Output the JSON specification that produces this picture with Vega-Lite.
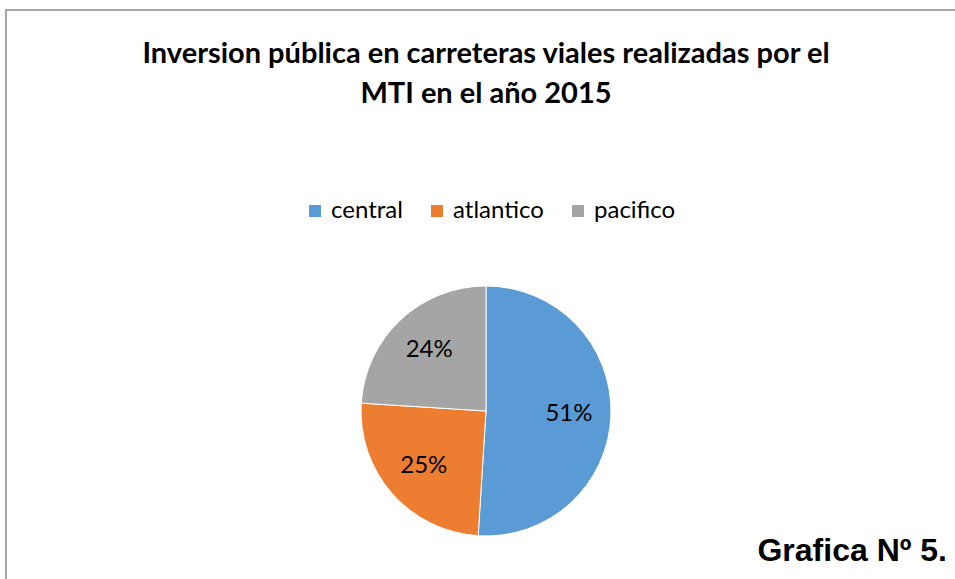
{
  "$schema": "https://vega.github.io/schema/vega-lite/v6.json",
  "width": 960,
  "height": 802,
  "autosize": "none",
  "padding": {"left": 6, "top": 10, "right": 0, "bottom": 0},
  "background": "white",
  "config": {"view": {"stroke": "#A6A6A6", "strokeWidth": 2}},
  "title": {
    "text": ["Inversion pública en carreteras viales realizadas por el", "MTI en el año 2015"],
    "font": "Lato",
    "fontSize": 29,
    "fontWeight": "bold",
    "color": "#000000",
    "anchor": "middle",
    "frame": "group",
    "orient": "top",
    "baseline": "top",
    "offset": 0,
    "dy": 99,
    "lineHeight": 40
  },
  "datasets": {
    "shares": [
      {"region": "central", "value": 51, "label": "51%", "idx": 1},
      {"region": "atlantico", "value": 25, "label": "25%", "idx": 2},
      {"region": "pacifico", "value": 24, "label": "24%", "idx": 3}
    ],
    "caption": [{"text": "Grafica Nº 5."}]
  },
  "layer": [
    {
      "data": {"name": "shares"},
      "mark": {"type": "arc", "outerRadius": 125, "stroke": "white", "strokeWidth": 1},
      "encoding": {
        "theta": {"field": "value", "type": "quantitative", "stack": true},
        "order": {"field": "idx", "type": "quantitative"},
        "color": {
          "field": "region",
          "type": "nominal",
          "scale": {"domain": ["central", "atlantico", "pacifico"], "range": ["#5B9BD5", "#ED7D31", "#A5A5A5"]},
          "legend": {
            "orient": "none",
            "legendX": 297,
            "legendY": 189,
            "direction": "horizontal",
            "title": null,
            "symbolType": "square",
            "symbolSize": 144,
            "symbolStrokeWidth": 0,
            "labelFont": "Lato",
            "labelFontSize": 24,
            "labelColor": "#000000",
            "labelOffset": 4,
            "columnPadding": 22
          }
        }
      }
    },
    {
      "data": {"name": "shares"},
      "mark": {"type": "text", "radius": 83, "font": "Lato", "fontSize": 24, "color": "#000000"},
      "encoding": {
        "theta": {"field": "value", "type": "quantitative", "stack": true},
        "order": {"field": "idx", "type": "quantitative"},
        "text": {"field": "label", "type": "nominal"}
      }
    },
    {
      "data": {"name": "caption"},
      "mark": {"type": "text", "font": "Liberation Sans", "fontSize": 32, "fontWeight": "bold", "color": "#000000", "align": "right", "baseline": "alphabetic", "dx": -19, "dy": -251},
      "encoding": {
        "x": {"value": "width"},
        "y": {"value": "height"},
        "text": {"field": "text", "type": "nominal"}
      }
    }
  ]
}
